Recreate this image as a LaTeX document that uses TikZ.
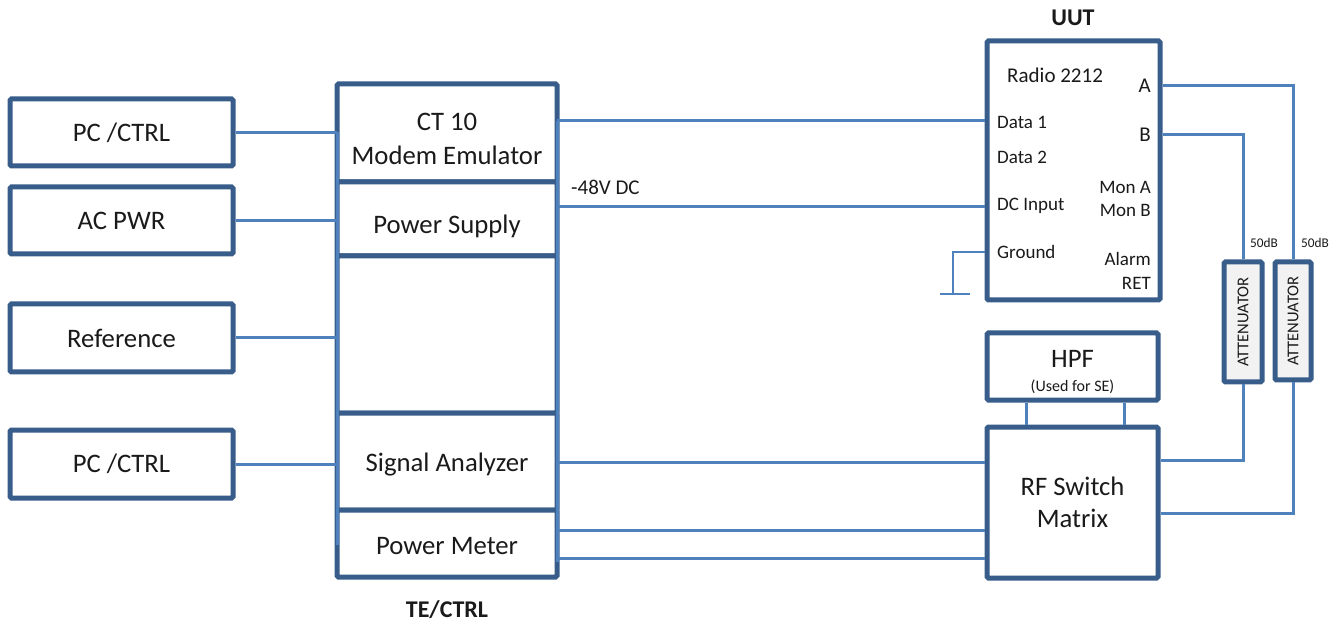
\documentclass[tikz,border=0pt]{standalone}
\usepackage{fontspec}
\setmainfont{Carlito}
\definecolor{boxc}{HTML}{385D8A}
\definecolor{linec}{HTML}{4F81BD}
\definecolor{attfill}{HTML}{F2F2F2}
\definecolor{txt}{HTML}{1A1A1A}
\begin{document}
\begin{tikzpicture}[x=1pt,y=-1pt, every node/.style={text=txt},
  box/.style={draw=boxc, line width=5, rectangle, rounded corners=1.5, align=center, inner sep=0, fill=white,
    font=\fontsize{26.7}{32}\selectfont},
  tebox/.style={box, outer sep=0},
  boxtext/.style={align=center, inner sep=0, font=\fontsize{26.7}{34}\selectfont},
  conn/.style={draw=linec, line width=3},
  thinconn/.style={draw=linec, line width=2},
  lbl/.style={font=\fontsize{19}{22}\selectfont, inner sep=0},
  lblbig/.style={font=\fontsize{21}{24}\selectfont, inner sep=0},
  tiny/.style={font=\fontsize{13.3}{15}\selectfont, inner sep=0},
  title/.style={font=\bfseries\fontsize{24}{28}\selectfont, inner sep=0}]
\useasboundingbox (0,0) rectangle (1342,628);

% left boxes
\node[box, minimum width=223, minimum height=67] (pcA) at (121.5,132.5) {PC /CTRL};
\node[box, minimum width=223, minimum height=67] (acp) at (121.5,220.5) {AC PWR};
\node[box, minimum width=223, minimum height=68] (ref) at (121.5,338) {Reference};
\node[box, minimum width=223, minimum height=68] (pcB) at (121.5,464) {PC /CTRL};

% TE/CTRL stack
\node[tebox, minimum width=220, minimum height=98] (ct) at (447,133) {};
\node[tebox, minimum width=220, minimum height=74] (ps) at (447,219) {};
\node[tebox, minimum width=220, minimum height=157] (blank) at (447,334.5) {};
\node[tebox, minimum width=220, minimum height=97] (sa) at (447,461.5) {};
\node[tebox, minimum width=220, minimum height=67] (pm) at (447,543.5) {};
\node[boxtext] (ctT) at ([yshift=-5.5]ct.center) {CT 10\\Modem Emulator};
\node[boxtext] (psT) at ([yshift=-7]ps.center) {Power Supply};
\node[boxtext] (saT) at ([yshift=-3]sa.center) {Signal Analyzer};
\node[boxtext] (pmT) at ([yshift=-3]pm.center) {Power Meter};
\node[title] (te) at (447,610) {TE/CTRL};

% UUT
\node[box, minimum width=173, minimum height=259] (uut) at (1073.5,170.5) {};
\node[title] (uutl) at (1073,18) {UUT};
\node[lblbig, anchor=west] (radio) at (1007,75) {Radio 2212};
\node[lblbig, anchor=east] (lA) at (1151,86) {A};
\node[lblbig, anchor=east] (lB) at (1151,135) {B};
\node[lbl, anchor=west] (d1) at (997,122) {Data 1};
\node[lbl, anchor=west] (d2) at (997,157) {Data 2};
\node[lbl, anchor=west] (dci) at (997,206) {DC Input};
\node[lbl, anchor=west] (gndl) at (997,252) {Ground};
\node[lbl, anchor=east] (mona) at (1151,187) {Mon A};
\node[lbl, anchor=east] (monb) at (1151,210) {Mon B};
\node[lbl, anchor=east] (alarm) at (1151,259) {Alarm};
\node[lbl, anchor=east] (ret) at (1151,283) {RET};

% HPF and RF switch
\node[box, minimum width=171, minimum height=67] (hpf) at (1072.5,366.5) {};
\node[boxtext, font=\fontsize{26.7}{32}\selectfont] (hpfT) at ([yshift=-5.5]hpf.center)
  {HPF\\[-8pt]{\fontsize{16}{18}\selectfont (Used for SE)}};
\node[box, minimum width=171, minimum height=151] (rf) at (1072.5,502.5) {RF Switch\\Matrix};

% attenuators
\node[box, fill=attfill, rotate=90, minimum width=120, minimum height=38,
  font=\fontsize{16.5}{18}\selectfont] (att1) at (1243,322) {ATTENUATOR};
\node[box, fill=attfill, rotate=90, minimum width=118, minimum height=36,
  font=\fontsize{16.5}{18}\selectfont] (att2) at (1293,321) {ATTENUATOR};
\node[tiny, anchor=west] (db1) at (1250,243) {50dB};
\node[tiny, anchor=west] (db2) at (1301,243) {50dB};

% left connectors
\draw[conn] (pcA.east) -- (pcA.east -| ct.west);
\draw[conn] (acp.east) -- (acp.east -| ct.west);
\draw[conn] (ref.east) -- (ref.east -| ct.west);
\draw[conn] (pcB.east) -- (pcB.east -| ct.west);
% bus overlays on TE edges
\draw[conn] (ct.west |- pcA.east) -- (pm.west |- 0,545);
\draw[conn] (ct.east |- 0,121) -- (pm.east |- 0,562);

% TE to UUT / RF
\node[lblbig, anchor=west] (v48) at (571,187) {-48V DC};
\draw[conn] (ct.east |- 0,121) -- (uut.west |- 0,121);
\draw[conn] (ps.east |- 0,207) -- (uut.west |- 0,207);
\draw[conn] (sa.east |- 0,462) -- (rf.west |- 0,462);
\draw[conn] (pm.east |- 0,530) -- (rf.west |- 0,530);
\draw[conn] (pm.east |- 0,558) -- (rf.west |- 0,558);

% ground
\coordinate (gnd) at (953,294);
\draw[thinconn] (uut.west |- gndl.center) -| (gnd);
\draw[thinconn] (940,294) -- (970,294);

% UUT A/B to attenuators
\draw[conn] (uut.east |- lA.center) -| (att2.east);
\draw[conn] (uut.east |- lB.center) -| (att1.east);
\draw[conn] (att1.west) |- (rf.east |- 0,460);
\draw[conn] (att2.west) |- (rf.east |- 0,513);

% HPF to RF
\draw[conn] (hpf.south -| 1026,0) -- (rf.north -| 1026,0);
\draw[conn] (hpf.south -| 1124,0) -- (rf.north -| 1124,0);
\end{tikzpicture}
\end{document}
